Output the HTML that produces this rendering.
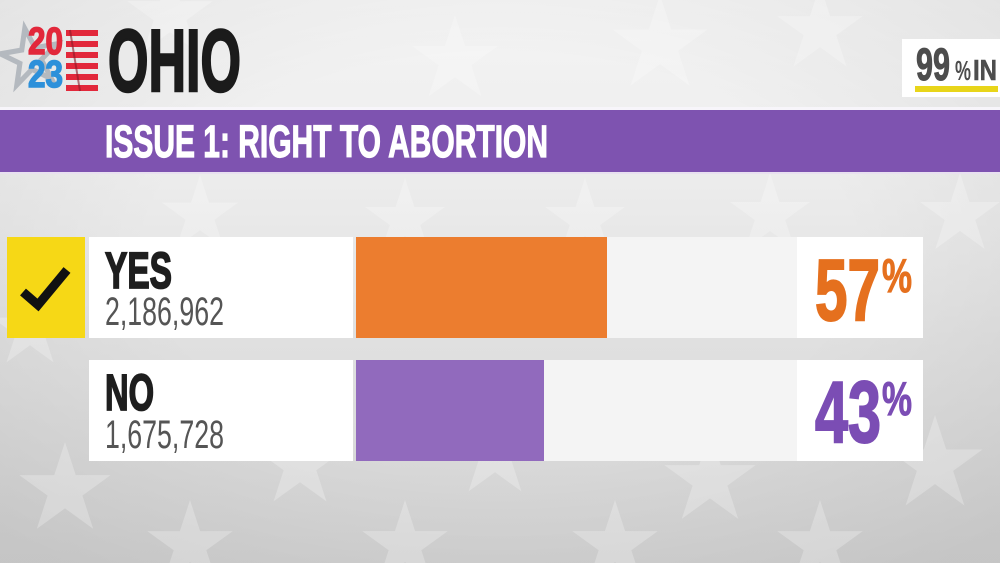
<!DOCTYPE html>
<html><head><meta charset="utf-8"><style>
html,body{margin:0;padding:0;width:1000px;height:563px;overflow:hidden;background:#e6e6e6;}
svg{display:block;}
text{font-family:"Liberation Sans",sans-serif;}
</style></head><body>
<svg width="1000" height="563" viewBox="0 0 1000 563" xmlns="http://www.w3.org/2000/svg">
<defs>
<linearGradient id="bg" x1="0" y1="0" x2="0" y2="1">
<stop offset="0" stop-color="#f4f4f4"/>
<stop offset="0.3" stop-color="#ededed"/>
<stop offset="0.6" stop-color="#e0e0e0"/>
<stop offset="1" stop-color="#d4d4d4"/>
</linearGradient>
<radialGradient id="vig" cx="0.5" cy="0.45" r="0.7">
<stop offset="0.5" stop-color="#000" stop-opacity="0"/>
<stop offset="1" stop-color="#000" stop-opacity="0.07"/>
</radialGradient>
<polygon id="s" points="0,-1 0.2245,-0.309 0.951,-0.309 0.363,0.118 0.588,0.809 0,0.382 -0.588,0.809 -0.363,0.118 -0.951,-0.309 -0.2245,-0.309"/>
</defs>
<rect width="1000" height="563" fill="url(#bg)"/>
<rect width="1000" height="563" fill="url(#vig)"/>
<g fill="#ffffff" opacity="0.25">
<use href="#s" transform="translate(65,490) scale(48)"/>
<use href="#s" transform="translate(300,465) scale(45)"/>
<use href="#s" transform="translate(495,455) scale(45)"/>
<use href="#s" transform="translate(710,480) scale(48)"/>
<use href="#s" transform="translate(935,465) scale(50)"/>
<use href="#s" transform="translate(190,545) scale(45)"/>
<use href="#s" transform="translate(405,545) scale(45)"/>
<use href="#s" transform="translate(615,545) scale(45)"/>
<use href="#s" transform="translate(820,545) scale(45)"/>
<use href="#s" transform="translate(170,15) scale(45)"/>
<use href="#s" transform="translate(455,60) scale(45)"/>
<use href="#s" transform="translate(660,45) scale(50)"/>
<use href="#s" transform="translate(820,30) scale(45)"/>
<use href="#s" transform="translate(200,215) scale(40)"/>
<use href="#s" transform="translate(405,220) scale(42)"/>
<use href="#s" transform="translate(585,220) scale(42)"/>
<use href="#s" transform="translate(770,215) scale(42)"/>
<use href="#s" transform="translate(960,215) scale(42)"/>
<use href="#s" transform="translate(30,330) scale(40)"/>
</g>

<!-- logo star -->
<use href="#s" transform="translate(30,58) scale(30) rotate(-10)" fill="none" stroke="#b4b9bf" stroke-width="0.17"/>
<!-- stripes -->
<g fill="#e2283b">
<rect x="66" y="30" width="32" height="6"/>
<rect x="66" y="41" width="32" height="6"/>
<rect x="66" y="52" width="32" height="6"/>
<rect x="66" y="63" width="32" height="6"/>
<rect x="66" y="74" width="32" height="6"/>
<rect x="66" y="85" width="32" height="6"/>
</g>
<line x1="70" y1="30" x2="80" y2="91" stroke="#8a1a26" stroke-width="2" opacity="0.6"/>
<text x="28" y="54" font-size="38" font-weight="bold" fill="#e2283b" stroke="#e2283b" stroke-width="1.5" textLength="35" lengthAdjust="spacingAndGlyphs">20</text>
<text x="28" y="87" font-size="38" font-weight="bold" fill="#2d90da" stroke="#2d90da" stroke-width="1.5" textLength="35" lengthAdjust="spacingAndGlyphs">23</text>
<text x="108" y="91" font-size="88" font-weight="bold" fill="#1b1b1b" stroke="#1b1b1b" stroke-width="2.5" textLength="133" lengthAdjust="spacingAndGlyphs">OHIO</text>

<!-- 99% IN -->
<rect x="902" y="39" width="98" height="58" fill="#ffffff"/>
<text x="916" y="80" font-size="45" font-weight="bold" fill="#4d4d4d" stroke="#4d4d4d" stroke-width="1" textLength="34" lengthAdjust="spacingAndGlyphs">99</text>
<text x="955" y="80" font-size="28" font-weight="bold" fill="#4d4d4d" textLength="16" lengthAdjust="spacingAndGlyphs">%</text>
<text x="973" y="80" font-size="29" font-weight="bold" fill="#4d4d4d" stroke="#4d4d4d" stroke-width="0.6" textLength="24" lengthAdjust="spacingAndGlyphs">IN</text>
<rect x="915" y="86" width="83" height="6" fill="#e8d51a"/>

<!-- band -->
<rect x="0" y="107" width="1000" height="3" fill="#f7f5fa"/>
<rect x="0" y="110" width="1000" height="62" fill="#7e53b0"/>
<rect x="0" y="172" width="1000" height="2" fill="#e8e0f0"/>
<text x="105" y="157" font-size="45" font-weight="bold" fill="#ffffff" stroke="#ffffff" stroke-width="1.2" textLength="443" lengthAdjust="spacingAndGlyphs">ISSUE 1: RIGHT TO ABORTION</text>

<!-- row 1 -->
<rect x="7" y="237" width="78" height="101" fill="#f6d816"/>
<polyline points="23,292 38,305 67,270" fill="none" stroke="#111111" stroke-width="9"/>
<rect x="89" y="237" width="264" height="101" fill="#ffffff"/>
<rect x="356" y="237" width="441" height="101" fill="#f4f4f4"/>
<rect x="356" y="237" width="251" height="101" fill="#ec7d2f"/>
<rect x="797" y="237" width="126" height="101" fill="#ffffff"/>
<text x="105" y="288" font-size="51" font-weight="bold" fill="#1e1e1e" stroke="#1e1e1e" stroke-width="1.8" textLength="67" lengthAdjust="spacingAndGlyphs">YES</text>
<text x="105" y="325" font-size="40" fill="#555555" textLength="119" lengthAdjust="spacingAndGlyphs">2,186,962</text>
<text x="815" y="320" font-size="87" font-weight="bold" fill="#e5701e" stroke="#e5701e" stroke-width="2" textLength="65" lengthAdjust="spacingAndGlyphs">57</text>
<text x="882" y="292" font-size="47" font-weight="bold" fill="#e5701e" stroke="#e5701e" stroke-width="1" textLength="30" lengthAdjust="spacingAndGlyphs">%</text>

<!-- row 2 -->
<rect x="89" y="360" width="264" height="101" fill="#ffffff"/>
<rect x="356" y="360" width="441" height="101" fill="#f4f4f4"/>
<rect x="356" y="360" width="188" height="101" fill="#916abd"/>
<rect x="797" y="360" width="126" height="101" fill="#ffffff"/>
<text x="105" y="410" font-size="51" font-weight="bold" fill="#1e1e1e" stroke="#1e1e1e" stroke-width="1.8" textLength="49" lengthAdjust="spacingAndGlyphs">NO</text>
<text x="105" y="448" font-size="40" fill="#555555" textLength="119" lengthAdjust="spacingAndGlyphs">1,675,728</text>
<text x="815" y="442" font-size="87" font-weight="bold" fill="#7b4db4" stroke="#7b4db4" stroke-width="2" textLength="66" lengthAdjust="spacingAndGlyphs">43</text>
<text x="882" y="415" font-size="47" font-weight="bold" fill="#7b4db4" stroke="#7b4db4" stroke-width="1" textLength="30" lengthAdjust="spacingAndGlyphs">%</text>
</svg>
</body></html>
